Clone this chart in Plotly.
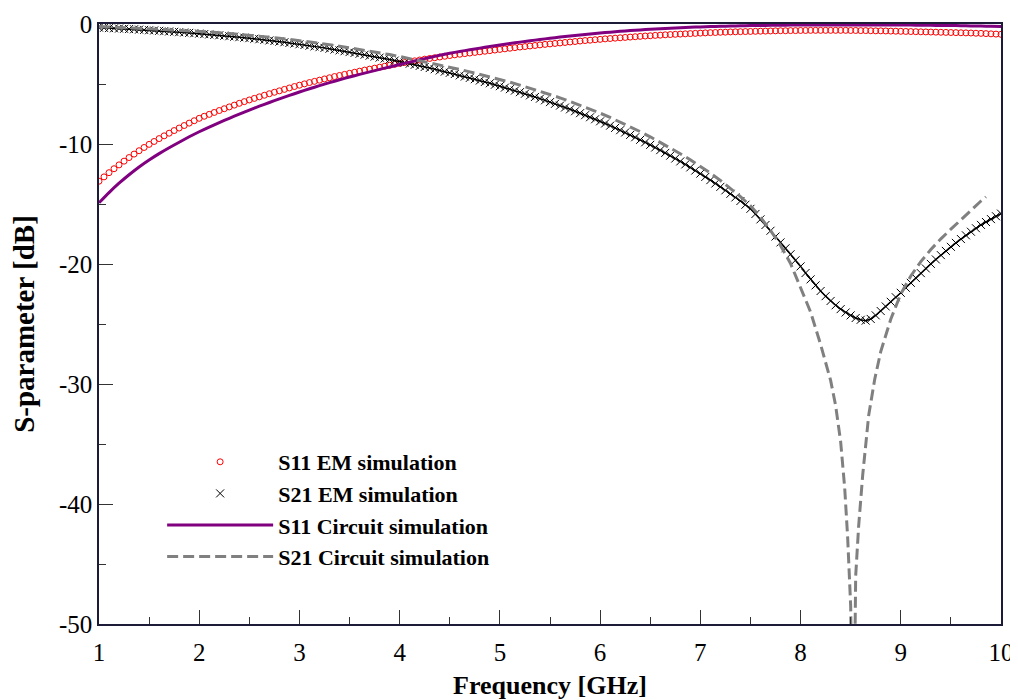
import plotly.graph_objects as go

# ---------------- data ----------------
freq_em = [
    1.00, 1.05, 1.10, 1.15, 1.20, 1.25, 1.30, 1.35, 1.40, 1.45,
    1.50, 1.55, 1.60, 1.65, 1.70, 1.75, 1.80, 1.85, 1.90, 1.95,
    2.00, 2.05, 2.10, 2.15, 2.20, 2.25, 2.30, 2.35, 2.40, 2.45,
    2.50, 2.55, 2.60, 2.65, 2.70, 2.75, 2.80, 2.85, 2.90, 2.95,
    3.00, 3.05, 3.10, 3.15, 3.20, 3.25, 3.30, 3.35, 3.40, 3.45,
    3.50, 3.55, 3.60, 3.65, 3.70, 3.75, 3.80, 3.85, 3.90, 3.95,
    4.00, 4.05, 4.10, 4.15, 4.20, 4.25, 4.30, 4.35, 4.40, 4.45,
    4.50, 4.55, 4.60, 4.65, 4.70, 4.75, 4.80, 4.85, 4.90, 4.95,
    5.00, 5.05, 5.10, 5.15, 5.20, 5.25, 5.30, 5.35, 5.40, 5.45,
    5.50, 5.55, 5.60, 5.65, 5.70, 5.75, 5.80, 5.85, 5.90, 5.95,
    6.00, 6.05, 6.10, 6.15, 6.20, 6.25, 6.30, 6.35, 6.40, 6.45,
    6.50, 6.55, 6.60, 6.65, 6.70, 6.75, 6.80, 6.85, 6.90, 6.95,
    7.00, 7.05, 7.10, 7.15, 7.20, 7.25, 7.30, 7.35, 7.40, 7.45,
    7.50, 7.55, 7.60, 7.65, 7.70, 7.75, 7.80, 7.85, 7.90, 7.95,
    8.00, 8.05, 8.10, 8.15, 8.20, 8.25, 8.30, 8.35, 8.40, 8.45,
    8.50, 8.55, 8.60, 8.65, 8.70, 8.75, 8.80, 8.85, 8.90, 8.95,
    9.00, 9.05, 9.10, 9.15, 9.20, 9.25, 9.30, 9.35, 9.40, 9.45,
    9.50, 9.55, 9.60, 9.65, 9.70, 9.75, 9.80, 9.85, 9.90, 9.95,
    10.00,
]

s11_em = [
    -13.10, -12.74, -12.39, -12.06, -11.74, -11.43, -11.13, -10.84, -10.56, -10.29,
    -10.03, -9.79, -9.55, -9.32, -9.10, -8.88, -8.67, -8.46, -8.26, -8.06,
    -7.86, -7.69, -7.53, -7.37, -7.21, -7.06, -6.91, -6.76, -6.61, -6.47,
    -6.33, -6.20, -6.07, -5.94, -5.81, -5.69, -5.57, -5.45, -5.33, -5.21,
    -5.10, -4.99, -4.88, -4.78, -4.68, -4.58, -4.48, -4.38, -4.29, -4.20,
    -4.11, -4.02, -3.93, -3.84, -3.76, -3.68, -3.60, -3.52, -3.44, -3.36,
    -3.28, -3.21, -3.14, -3.07, -3.00, -2.93, -2.87, -2.81, -2.75, -2.69,
    -2.63, -2.57, -2.52, -2.47, -2.42, -2.37, -2.32, -2.27, -2.22, -2.17,
    -2.12, -2.07, -2.02, -1.97, -1.92, -1.88, -1.83, -1.79, -1.74, -1.70,
    -1.66, -1.62, -1.58, -1.54, -1.50, -1.46, -1.42, -1.38, -1.35, -1.31,
    -1.28, -1.24, -1.21, -1.18, -1.15, -1.12, -1.09, -1.06, -1.03, -1.00,
    -0.98, -0.95, -0.93, -0.90, -0.88, -0.86, -0.84, -0.82, -0.80, -0.78,
    -0.76, -0.74, -0.72, -0.71, -0.69, -0.68, -0.66, -0.65, -0.64, -0.63,
    -0.62, -0.61, -0.60, -0.59, -0.58, -0.57, -0.56, -0.56, -0.55, -0.55,
    -0.54, -0.54, -0.53, -0.53, -0.53, -0.53, -0.53, -0.53, -0.53, -0.53,
    -0.54, -0.54, -0.55, -0.55, -0.56, -0.57, -0.57, -0.58, -0.59, -0.60,
    -0.61, -0.62, -0.63, -0.64, -0.65, -0.66, -0.67, -0.68, -0.69, -0.70,
    -0.71, -0.72, -0.73, -0.74, -0.75, -0.77, -0.78, -0.80, -0.82, -0.84,
    -0.86,
]

s21_em = [
    -0.30, -0.32, -0.34, -0.36, -0.38, -0.40, -0.42, -0.44, -0.47, -0.49,
    -0.52, -0.54, -0.57, -0.60, -0.62, -0.65, -0.68, -0.71, -0.74, -0.77,
    -0.80, -0.84, -0.87, -0.91, -0.94, -0.98, -1.02, -1.06, -1.10, -1.14,
    -1.18, -1.23, -1.27, -1.32, -1.37, -1.42, -1.47, -1.52, -1.58, -1.63,
    -1.69, -1.75, -1.81, -1.87, -1.93, -1.99, -2.06, -2.13, -2.20, -2.27,
    -2.34, -2.41, -2.48, -2.56, -2.64, -2.72, -2.80, -2.88, -2.96, -3.05,
    -3.13, -3.22, -3.31, -3.40, -3.49, -3.58, -3.67, -3.77, -3.87, -3.97,
    -4.07, -4.17, -4.28, -4.38, -4.49, -4.60, -4.71, -4.83, -4.94, -5.06,
    -5.18, -5.30, -5.43, -5.55, -5.68, -5.81, -5.95, -6.08, -6.22, -6.36,
    -6.51, -6.65, -6.80, -6.96, -7.11, -7.27, -7.43, -7.60, -7.77, -7.94,
    -8.11, -8.29, -8.47, -8.66, -8.85, -9.04, -9.24, -9.44, -9.65, -9.86,
    -10.07, -10.29, -10.51, -10.74, -10.97, -11.21, -11.45, -11.70, -11.95, -12.21,
    -12.47, -12.74, -13.01, -13.29, -13.57, -13.86, -14.15, -14.45, -14.75, -15.06,
    -15.40, -15.83, -16.28, -16.75, -17.23, -17.71, -18.20, -18.69, -19.19, -19.69,
    -20.20, -20.75, -21.28, -21.78, -22.25, -22.68, -23.08, -23.44, -23.76, -24.04,
    -24.28, -24.50, -24.65, -24.72, -24.58, -24.28, -23.92, -23.54, -23.15, -22.77,
    -22.40, -21.98, -21.57, -21.16, -20.76, -20.37, -19.99, -19.62, -19.26, -18.91,
    -18.57, -18.24, -17.92, -17.61, -17.31, -17.02, -16.74, -16.50, -16.26, -16.02,
    -15.80,
]

freq_s11_circ = [
    1.0, 1.1, 1.2, 1.3, 1.4, 1.5, 1.6, 1.7, 1.8, 1.9,
    2.0, 2.1, 2.2, 2.3, 2.4, 2.5, 2.6, 2.7, 2.8, 2.9,
    3.0, 3.1, 3.2, 3.3, 3.4, 3.5, 3.6, 3.7, 3.8, 3.9,
    4.0, 4.1, 4.2, 4.3, 4.4, 4.5, 4.6, 4.7, 4.8, 4.9,
    5.0, 5.1, 5.2, 5.3, 5.4, 5.5, 5.6, 5.7, 5.8, 5.9,
    6.0, 6.1, 6.2, 6.3, 6.4, 6.5, 6.6, 6.7, 6.8, 6.9,
    7.0, 7.1, 7.2, 7.3, 7.4, 7.5, 7.6, 7.7, 7.8, 7.9,
    8.0, 8.1, 8.2, 8.3, 8.4, 8.5, 8.6, 8.7, 8.8, 8.9,
    9.0, 9.1, 9.2, 9.3, 9.4, 9.5, 9.6, 9.7, 9.8, 9.9,
    10.0,
]

s11_circ = [
    -14.90, -14.05, -13.27, -12.56, -11.91, -11.33, -10.80, -10.31, -9.85, -9.40,
    -8.98, -8.59, -8.22, -7.86, -7.51, -7.17, -6.85, -6.54, -6.24, -5.95,
    -5.67, -5.40, -5.14, -4.89, -4.65, -4.42, -4.20, -3.99, -3.78, -3.58,
    -3.38, -3.18, -2.98, -2.79, -2.61, -2.44, -2.29, -2.15, -2.01, -1.88,
    -1.75, -1.63, -1.51, -1.40, -1.29, -1.19, -1.09, -1.00, -0.91, -0.83,
    -0.75, -0.68, -0.61, -0.55, -0.49, -0.44, -0.39, -0.35, -0.31, -0.27,
    -0.24, -0.21, -0.19, -0.17, -0.15, -0.13, -0.12, -0.11, -0.10, -0.09,
    -0.09, -0.08, -0.08, -0.08, -0.08, -0.08, -0.08, -0.08, -0.08, -0.08,
    -0.08, -0.09, -0.10, -0.11, -0.12, -0.13, -0.14, -0.16, -0.17, -0.19,
    -0.21,
]

freq_s21_circ = [
    1.0, 1.1, 1.2, 1.3, 1.4, 1.5, 1.6, 1.7, 1.8, 1.9,
    2.0, 2.1, 2.2, 2.3, 2.4, 2.5, 2.6, 2.7, 2.8, 2.9,
    3.0, 3.1, 3.2, 3.3, 3.4, 3.5, 3.6, 3.7, 3.8, 3.9,
    4.0, 4.1, 4.2, 4.3, 4.4, 4.5, 4.6, 4.7, 4.8, 4.9,
    5.0, 5.1, 5.2, 5.3, 5.4, 5.5, 5.6, 5.7, 5.8, 5.9,
    6.0, 6.1, 6.2, 6.3, 6.4, 6.5, 6.6, 6.7, 6.8, 6.9,
    7.0, 7.1, 7.2, 7.3, 7.4, 7.5, 7.6, 7.7, 7.8, 7.9,
    8.0, 8.1, 8.2, 8.3, 8.35, 8.4, 8.44, 8.47, 8.5, 8.525,
    8.55, 8.58, 8.62, 8.68, 8.74, 8.8, 8.9, 9.0, 9.1, 9.2,
    9.3, 9.4, 9.5, 9.6, 9.7, 9.8, 9.85,
]

s21_circ = [
    -0.20, -0.24, -0.27, -0.30, -0.33, -0.37, -0.41, -0.45, -0.50, -0.55,
    -0.60, -0.66, -0.72, -0.79, -0.86, -0.93, -1.01, -1.09, -1.18, -1.28,
    -1.38, -1.49, -1.60, -1.72, -1.85, -1.98, -2.11, -2.25, -2.40, -2.55,
    -2.71, -2.88, -3.05, -3.22, -3.41, -3.60, -3.79, -3.99, -4.19, -4.40,
    -4.62, -4.85, -5.09, -5.34, -5.60, -5.87, -6.15, -6.45, -6.76, -7.09,
    -7.43, -7.79, -8.17, -8.56, -8.97, -9.40, -9.85, -10.32, -10.81, -11.32,
    -11.86, -12.43, -13.03, -13.68, -14.38, -15.15, -16.10, -17.20, -18.45, -19.95,
    -21.90, -24.00, -26.70, -29.70, -31.80, -34.80, -38.60, -42.80, -48.50, -65.00,
    -46.00, -41.80, -37.60, -32.60, -29.60, -27.30, -24.60, -22.50, -21.00, -19.80,
    -18.80, -17.90, -17.10, -16.30, -15.50, -14.75, -14.40,
]

x_tickvals = [1, 2, 3, 4, 5, 6, 7, 8, 9, 10]
x_ticktext = ["1", "2", "3", "4", "5", "6", "7", "8", "9", "10"]
y_tickvals = [0, -10, -20, -30, -40, -50]
y_ticktext = ["0", "-10", "-20", "-30", "-40", "-50"]

names = ["S11 EM simulation", "S21 EM simulation",
         "S11 Circuit simulation", "S21 Circuit simulation"]

assert len(freq_em) == len(s11_em) == len(s21_em)
assert len(freq_s11_circ) == len(s11_circ)
assert len(freq_s21_circ) == len(s21_circ)

SERIF = "Liberation Serif, Times New Roman, serif"
AXCOL = "#1c1c38"

fig = go.Figure()

# S11 EM: open red circles
fig.add_trace(go.Scatter(
    x=freq_em, y=s11_em, mode="markers", name=names[0],
    marker=dict(symbol="circle-open", size=6, color="#ff0000",
                line=dict(width=1, color="#ff0000")),
))
# S21 EM: connecting black line (not in legend)
fig.add_trace(go.Scatter(
    x=freq_em, y=s21_em, mode="lines", showlegend=False,
    line=dict(color="black", width=1.5), hoverinfo="skip",
))
# S21 EM: x markers
fig.add_trace(go.Scatter(
    x=freq_em, y=s21_em, mode="markers", name=names[1],
    marker=dict(symbol="x-thin-open", size=8, color="black",
                line=dict(width=1, color="black")),
))
# S11 circuit: purple solid
fig.add_trace(go.Scatter(
    x=freq_s11_circ, y=s11_circ, mode="lines", name=names[2],
    line=dict(color="#800080", width=3, shape="spline", smoothing=0.6),
))
# S21 circuit: grey dashed
fig.add_trace(go.Scatter(
    x=freq_s21_circ, y=s21_circ, mode="lines", name=names[3],
    line=dict(color="#808080", width=3, dash="11px,5px"),
))

axis_common = dict(
    showgrid=False, zeroline=False, showline=True, mirror=True,
    automargin=False,
    linecolor=AXCOL, linewidth=1.5,
    ticks="inside", ticklen=14, tickwidth=1.2, tickcolor="#333333",
    tickfont=dict(family=SERIF, size=25, color="black"),
)

fig.update_xaxes(
    range=[1, 10], tickmode="array", tickvals=x_tickvals, ticktext=x_ticktext,
    ticklabelstandoff=5,
    minor=dict(tick0=1, dtick=0.5, ticks="inside", ticklen=7,
               tickwidth=1.2, tickcolor="#333333", showgrid=False),
    title=dict(text="<b>Frequency [GHz]</b>",
               font=dict(family=SERIF, size=26, color="black"), standoff=14),
    **axis_common,
)
fig.update_yaxes(
    range=[-50, 0], tickmode="array", tickvals=y_tickvals, ticktext=y_ticktext,
    minor=dict(tick0=0, dtick=5, ticks="inside", ticklen=7,
               tickwidth=1.2, tickcolor="#333333", showgrid=False),
    title=dict(text="<b>S-parameter [dB]</b>",
               font=dict(family=SERIF, size=29, color="black"), standoff=16),
    **axis_common,
)

# the page body has an 8px margin, so the figure is 8px smaller than the window
fig.update_layout(
    width=1010, height=692,
    margin=dict(l=91, r=17, t=16, b=76),
    plot_bgcolor="white", paper_bgcolor="white",
    showlegend=True,
    legend=dict(
        x=0.07, y=0.305, xanchor="left", yanchor="top",
        bgcolor="rgba(0,0,0,0)", borderwidth=0,
        font=dict(family=SERIF, size=22, color="black", weight="bold"),
        itemwidth=106, tracegroupgap=0,
    ),
)

fig.write_html("out.html")
